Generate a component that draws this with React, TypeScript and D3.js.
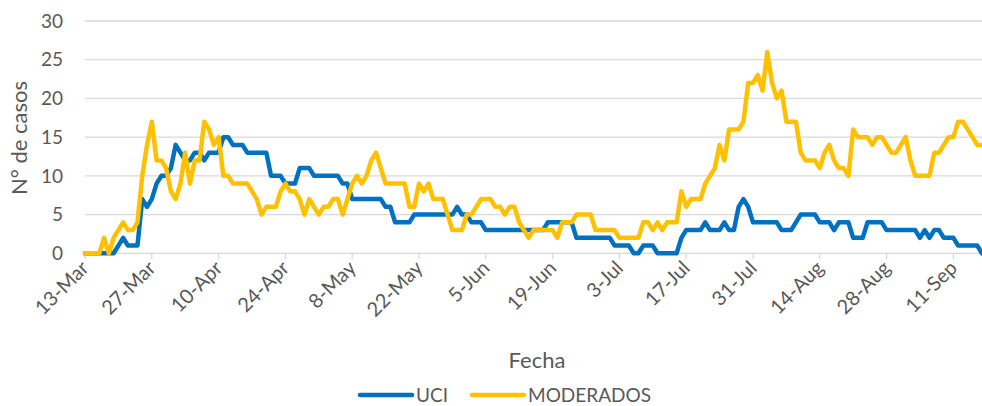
import { useEffect, useRef } from 'react'
import * as d3 from 'd3'

// daily values from 13-Mar to 17-Sep
const uci = [
    0, 0, 0, 0, 0, 0, 0, 1, 2, 1, 1, 1, 7, 6, 7, 9, 10, 10, 11, 14,
    13, 12, 12, 13, 13, 12, 13, 13, 13, 15, 15, 14, 14, 14, 13, 13, 13, 13, 13, 10,
    10, 10, 9, 9, 9, 11, 11, 11, 10, 10, 10, 10, 10, 10, 9, 9, 7, 7, 7, 7,
    7, 7, 7, 6, 6, 4, 4, 4, 4, 5, 5, 5, 5, 5, 5, 5, 5, 5, 6, 5,
    5, 4, 4, 4, 3, 3, 3, 3, 3, 3, 3, 3, 3, 3, 3, 3, 3, 4, 4, 4,
    4, 4, 4, 2, 2, 2, 2, 2, 2, 2, 2, 1, 1, 1, 1, 0, 0, 1, 1, 1,
    0, 0, 0, 0, 0, 2, 3, 3, 3, 3, 4, 3, 3, 3, 4, 3, 3, 6, 7, 6,
    4, 4, 4, 4, 4, 4, 3, 3, 3, 4, 5, 5, 5, 5, 4, 4, 4, 3, 4, 4,
    4, 2, 2, 2, 4, 4, 4, 4, 3, 3, 3, 3, 3, 3, 3, 2, 3, 2, 3, 3,
    2, 2, 2, 1, 1, 1, 1, 1, 0
]

const moderados = [
    0, 0, 0, 0, 2, 0, 2, 3, 4, 3, 3, 4, 10, 14, 17, 12, 12, 11, 8, 7,
    9, 13, 9, 12, 12, 17, 16, 14, 15, 10, 10, 9, 9, 9, 9, 8, 7, 5, 6, 6,
    6, 8, 9, 8, 8, 7, 5, 7, 6, 5, 6, 6, 7, 7, 5, 7, 9, 10, 9, 10,
    12, 13, 11, 9, 9, 9, 9, 9, 6, 6, 9, 8, 9, 7, 7, 7, 5, 3, 3, 3,
    5, 5, 6, 7, 7, 7, 6, 6, 5, 6, 6, 4, 3, 2, 3, 3, 3, 3, 3, 2,
    4, 4, 4, 5, 5, 5, 5, 3, 3, 3, 3, 3, 2, 2, 2, 2, 2, 4, 4, 3,
    4, 3, 4, 4, 4, 8, 6, 7, 7, 7, 9, 10, 11, 14, 12, 16, 16, 16, 17, 22,
    22, 23, 21, 26, 22, 20, 21, 17, 17, 17, 13, 12, 12, 12, 11, 13, 14, 12, 11, 11,
    10, 16, 15, 15, 15, 14, 15, 15, 14, 13, 13, 14, 15, 12, 10, 10, 10, 10, 13, 13,
    14, 15, 15, 17, 17, 16, 15, 14, 14
]

const tickLabels = ['13-Mar', '27-Mar', '10-Apr', '24-Apr', '8-May', '22-May', '5-Jun',
    '19-Jun', '3-Jul', '17-Jul', '31-Jul', '14-Aug', '28-Aug', '11-Sep']
const yTicks = [0, 5, 10, 15, 20, 25, 30]
const seriesNames = ['UCI', 'MODERADOS']
const seriesColors = ['#0070C0', '#FFC000']

function App() {
    const ref = useRef(null)

    useEffect(() => {
        const width = 982
        const height = 406
        const margin = { top: 21, right: 0, bottom: 152.7, left: 85 }
        const font = 'Lato, "Open Sans", sans-serif'
        const textColor = '#595959'

        const svg = d3.select(ref.current)
        svg.selectAll('*').remove()

        const first = new Date(2020, 2, 13)
        const days = d3.timeDay.range(first, d3.timeDay.offset(first, uci.length))
        const categories = days.map(d3.timeFormat('%-d-%b'))

        const xScale = d3
            .scalePoint()
            .domain(categories)
            .range([margin.left, width - margin.right])

        const yScale = d3
            .scaleLinear()
            .domain([0, 30])
            .range([height - margin.bottom, margin.top])

        // grid
        svg
            .append('g')
            .selectAll('line')
            .data(yTicks)
            .enter()
            .append('line')
            .attr('x1', margin.left)
            .attr('x2', width - margin.right)
            .attr('y1', d => yScale(d))
            .attr('y2', d => yScale(d))
            .style('stroke', '#D9D9D9')
            .style('stroke-width', 1.3)

        svg
            .append('g')
            .selectAll('text')
            .data(yTicks)
            .enter()
            .append('text')
            .attr('x', 63)
            .attr('y', d => yScale(d))
            .attr('dy', '0.35em')
            .style('text-anchor', 'end')
            .style('font-family', font)
            .style('font-size', '19px')
            .style('fill', textColor)
            .text(d => d)

        // x ticks
        svg
            .append('g')
            .selectAll('line')
            .data(tickLabels)
            .enter()
            .append('line')
            .attr('x1', d => xScale(d))
            .attr('x2', d => xScale(d))
            .attr('y1', yScale(0))
            .attr('y2', yScale(0) + 6)
            .style('stroke', '#D9D9D9')
            .style('stroke-width', 1.3)

        svg
            .append('g')
            .selectAll('text')
            .data(tickLabels)
            .enter()
            .append('text')
            .attr('transform', d => `translate(${xScale(d) + 5}, ${yScale(0) + 16}) rotate(-45)`)
            .style('text-anchor', 'end')
            .style('font-family', font)
            .style('font-size', '20px')
            .style('fill', textColor)
            .text(d => d)

        // axis titles
        svg
            .append('text')
            .attr('transform', 'translate(27, 138) rotate(-90)')
            .style('text-anchor', 'middle')
            .style('font-family', font)
            .style('font-size', '22px')
            .style('fill', textColor)
            .text('N° de casos')

        svg
            .append('text')
            .attr('x', 537)
            .attr('y', 368)
            .style('text-anchor', 'middle')
            .style('font-family', font)
            .style('font-size', '22px')
            .style('fill', textColor)
            .text('Fecha')

        // lines
        const path = d3
            .line<number>()
            .x((d, i) => xScale(categories[i]))
            .y(d => yScale(d))

        const series = [uci, moderados]
        series.forEach((values, k) => {
            svg
                .append('path')
                .datum(values)
                .attr('d', path)
                .style('fill', 'none')
                .style('stroke', seriesColors[k])
                .style('stroke-width', 4.5)
                .style('stroke-linejoin', 'round')
                .style('stroke-linecap', 'round')
        })

        // legend
        const legendX = [360, 472]
        const legend = svg
            .append('g')
            .selectAll('g')
            .data(seriesNames)
            .enter()
            .append('g')
            .attr('transform', (d, i) => `translate(${legendX[i]}, 395)`)

        legend
            .append('line')
            .attr('x1', 0)
            .attr('x2', 52)
            .style('stroke', (d, i) => seriesColors[i])
            .style('stroke-width', 4.5)
            .style('stroke-linecap', 'round')

        legend
            .append('text')
            .attr('x', 56)
            .attr('dy', '0.35em')
            .style('font-family', font)
            .style('font-size', '19px')
            .style('fill', textColor)
            .text(d => d)
    }, [])

    return (
        <svg
            ref={ref}
            width={982}
            height={406}
            style={{ position: 'absolute', left: 0, top: 0 }}
        />
    )
}

export default App
